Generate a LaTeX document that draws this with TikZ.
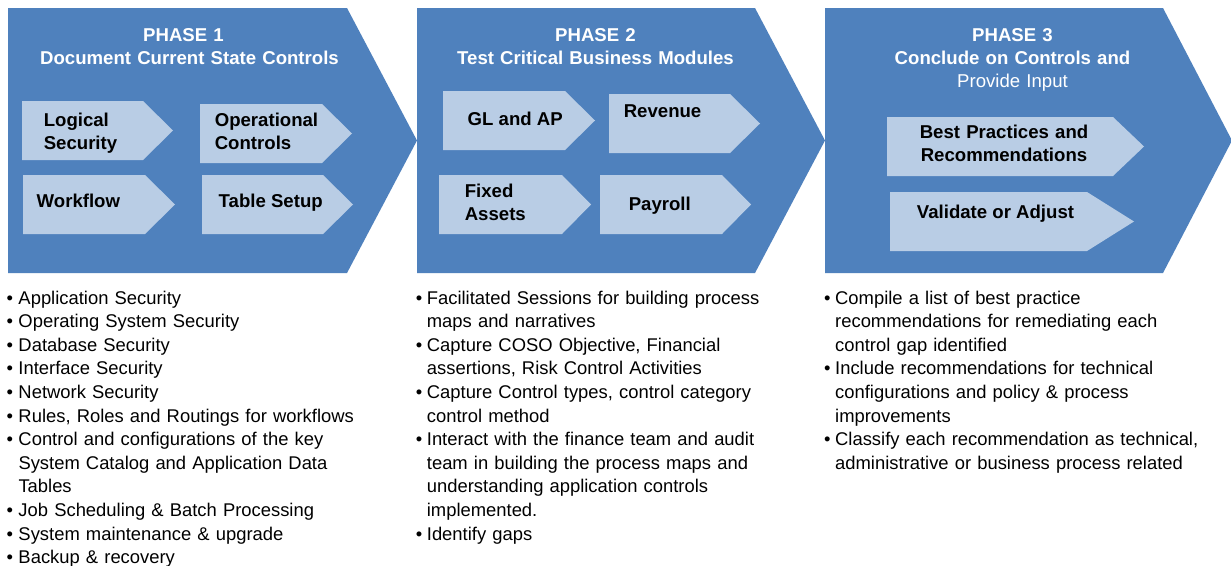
\documentclass[tikz,border=0pt]{standalone}
\usepackage{fontspec}
\setmainfont{Liberation Sans}
\definecolor{phaseblue}{HTML}{4F81BD}
\definecolor{stepblue}{HTML}{B9CDE5}
\newcommand\chevpath[5]{(#1,#4) -- (#2,#4) -- (#3,{(#4+#5)/2}) -- (#2,#5) -- (#1,#5) -- cycle}
\newcommand\bitem[2][11pt]{\hangindent=#1\hangafter=1\makebox[#1][l]{\textbullet}#2\par}
\tikzset{
  bigchev/.style={fill=phaseblue},
  smallchev/.style={fill=stepblue},
  head/.style={text=white, font=\bfseries\fontsize{18.6}{23.3}\selectfont, text width=340pt, align=center, inner sep=0pt, anchor=base},
  steptext/.style={text=black, font=\bfseries\fontsize{18.6}{23.5}\selectfont, inner sep=0pt, anchor=base west},
  steplines/.style={steptext, text width=160pt, align=left},
  stepcenter/.style={steptext, text width=220pt, align=center, anchor=base},
  listtext/.style={text=black, font=\fontsize{18.4}{23.6}\selectfont, text width=400pt, align=left, inner sep=0pt, anchor=base west},
}
\begin{document}
\begin{tikzpicture}[x=1pt,y=-1pt]
\useasboundingbox[fill=white] (0,0) rectangle (1231,565);
% big phase chevrons
\fill[bigchev] \chevpath{8}{347}{417}{8}{273};
\fill[bigchev] \chevpath{417}{755}{825}{8}{273};
\fill[bigchev] \chevpath{825}{1163}{1232}{8}{273};
% small step chevrons
\fill[smallchev] \chevpath{22}{143}{173}{101}{160};
\fill[smallchev] \chevpath{200}{322}{352}{104}{163};
\fill[smallchev] \chevpath{23}{145}{175}{175}{234};
\fill[smallchev] \chevpath{202}{323}{353}{175}{234};
\fill[smallchev] \chevpath{443}{565}{595}{91}{150};
\fill[smallchev] \chevpath{609}{730}{760}{94}{153};
\fill[smallchev] \chevpath{439}{562}{591}{175}{234};
\fill[smallchev] \chevpath{600}{722}{751}{175}{234};
\fill[smallchev] \chevpath{887}{1113}{1144}{117}{176};
\fill[smallchev] \chevpath{890}{1087}{1134}{192}{251};
% headings
\node[head] (h1) at (189.5,41) {PHASE 1\kern12pt\\Document Current State Controls};
\node[head] (h2) at (595.5,41) {PHASE 2\\Test Critical Business Modules};
\node[head] (h3) at (1012.5,41) {PHASE 3\\Conclude on Controls and\\{\mdseries Provide Input}};
% step labels
\node[steplines] (tls) at (43.6,126) {Logical\\Security};
\node[steplines] (toc) at (214.6,126) {Operational\\Controls};
\node[steptext] (twf) at (36.5,207.3) {Workflow};
\node[steptext] (tts) at (218.5,207) {Table Setup};
\node[steptext] (tgl) at (467.5,125) {GL and AP};
\node[steptext] (trv) at (623.6,117.3) {Revenue};
\node[steplines] (tfa) at (464.6,197.3) {Fixed\\Assets};
\node[steptext] (tpr) at (628.6,210) {Payroll};
\node[stepcenter] (tbp) at (1004,138.3) {Best Practices and\\Recommendations};
\node[steptext, anchor=base] (tva) at (995.5,218.3) {Validate or Adjust};
% bullet lists
\node[listtext] (l1) at (6.3,304) {%
\bitem[12pt]{Application Security}%
\bitem[12pt]{Operating System Security}%
\bitem[12pt]{Database Security}%
\bitem[12pt]{Interface Security}%
\bitem[12pt]{Network Security}%
\bitem[12pt]{Rules, Roles and Routings for workflows}%
\bitem[12pt]{Control and configurations of the key\newline System Catalog and Application Data\newline Tables}%
\bitem[12pt]{Job Scheduling \& Batch Processing}%
\bitem[12pt]{System maintenance \& upgrade}%
\bitem[12pt]{Backup \& recovery}};
\node[listtext] (l2) at (415.7,304) {%
\bitem{Facilitated Sessions for building process\newline maps and narratives}%
\bitem{Capture COSO Objective, Financial\newline assertions, Risk Control Activities}%
\bitem{Capture Control types, control category\newline control method}%
\bitem{Interact with the finance team and audit\newline team in building the process maps and\newline understanding application controls\newline implemented.}%
\bitem{Identify gaps}};
\node[listtext] (l3) at (824,304) {%
\bitem{Compile a list of best practice\newline recommendations for remediating each\newline control gap identified}%
\bitem{Include recommendations for technical\newline configurations and policy \& process\newline improvements}%
\bitem{Classify each recommendation as technical,\newline administrative or business process related}};
\end{tikzpicture}
\end{document}
